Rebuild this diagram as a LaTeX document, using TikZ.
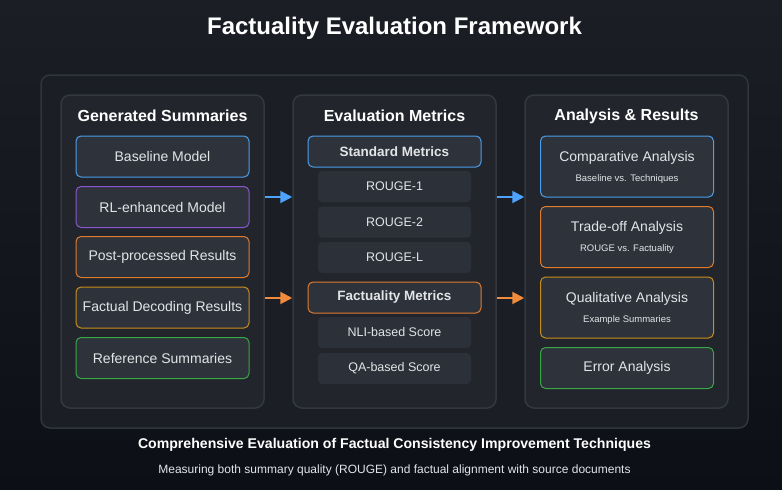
\documentclass[tikz,border=0pt]{standalone}
\usepackage{fontspec}
\setmainfont{Liberation Sans}
\usetikzlibrary{arrows.meta,positioning}
\definecolor{bgA}{HTML}{1B1E25}
\definecolor{bgB}{HTML}{0C0F15}
\definecolor{panelfill}{HTML}{1B1E25}
\definecolor{panelline}{HTML}{30343C}
\definecolor{colfill}{HTML}{22252C}
\definecolor{colline}{HTML}{33373F}
\definecolor{boxfill}{HTML}{2E333B}
\definecolor{subfill}{HTML}{2C3038}
\definecolor{txt}{HTML}{E2E4E8}
\definecolor{cblue}{HTML}{4A9EEB}
\definecolor{cpurple}{HTML}{8A55D0}
\definecolor{corange}{HTML}{E07B2E}
\definecolor{cgold}{HTML}{C98D1C}
\definecolor{cgreen}{HTML}{38A846}
\definecolor{ablue}{HTML}{4DA3FF}
\definecolor{aorange}{HTML}{F08A3C}
\tikzset{
  panel/.style={draw=panelline, line width=1.5pt, fill=panelfill, rounded corners=9pt},
  column/.style={draw=colline, line width=1.5pt, fill=colfill, rounded corners=9pt},
  coltitle/.style={text=white, font=\fontsize{16}{19}\selectfont\bfseries},
  itembox/.style={draw=#1, line width=1pt, fill=boxfill, rounded corners=5pt,
    minimum width=173pt, minimum height=41pt, inner sep=0pt, text=txt,
    font=\fontsize{14}{17}\selectfont},
  tallbox/.style={itembox=#1, minimum height=61pt},
  headbox/.style={draw=#1, line width=1pt, fill=boxfill, rounded corners=5pt,
    minimum width=173pt, minimum height=31pt, inner sep=0pt, text=txt,
    font=\fontsize{13.5}{16}\selectfont\bfseries},
  metricbox/.style={fill=subfill, rounded corners=4pt, minimum width=153pt,
    minimum height=31pt, inner sep=0pt, text=txt, font=\fontsize{12.5}{15}\selectfont},
  boxhead/.style={text=txt, font=\fontsize{14}{17}\selectfont},
  boxsub/.style={text=txt, font=\fontsize{9.5}{11}\selectfont},
  flow/.style={line width=2pt, draw=#1, -{Triangle[length=12pt,width=12pt,fill=#1]}},
}
\begin{document}
\begin{tikzpicture}[x=1pt,y=-1pt]
% background
\shade[left color=bgA, right color=bgB, shading angle=0] (0,0) rectangle (782,490);
\shade[top color=bgA, bottom color=bgB, opacity=0.5] (0,0) rectangle (782,490);
\useasboundingbox (0,0) rectangle (782,490);

% title
\node[text=white, font=\fontsize{24}{28}\selectfont\bfseries] (title) at (394.5,28) {Factuality Evaluation Framework};

% outer panel
\node[panel, minimum width=707pt, minimum height=353pt, inner sep=0pt] (panel) at (394.5,251.5) {};

% columns
\node[column, minimum width=203pt, minimum height=313pt, inner sep=0pt] (col1) at (162.5,251.5) {};
\node[column, minimum width=203pt, minimum height=313pt, inner sep=0pt] (col2) at (394.5,251.5) {};
\node[column, minimum width=203pt, minimum height=313pt, inner sep=0pt] (col3) at (626.5,251.5) {};

\node[coltitle] (t1) at (162.5,116) {Generated Summaries};
\node[coltitle] (t2) at (394.5,116) {Evaluation Metrics};
\node[coltitle] (t3) at (626.5,116) {Analysis \& Results};

% column 1: sources of summaries
\node[itembox=cblue]   (baseline) at (162.5,156.5) {Baseline Model};
\node[itembox=cpurple] (rl)       at (162.5,207)   {RL-enhanced Model};
\node[itembox=corange] (post)     at (162.5,257)   {Post-processed Results};
\node[itembox=cgold]   (decode)   at (162.5,307.5) {Factual Decoding Results};
\node[itembox=cgreen]  (ref)      at (162.5,358)   {Reference Summaries};

% column 2: metrics
\node[headbox=cblue]   (std)   at (394.5,151.5) {Standard Metrics};
\node[metricbox]       (r1)    at (394.5,186.5) {ROUGE-1};
\node[metricbox]       (r2)    at (394.5,222)   {ROUGE-2};
\node[metricbox]       (rlm)   at (394.5,257.5) {ROUGE-L};
\node[headbox=corange] (fact)  at (394.5,297.5) {Factuality Metrics};
\node[metricbox]       (nli)   at (394.5,332.5) {NLI-based Score};
\node[metricbox]       (qa)    at (394.5,368.5) {QA-based Score};

% column 3: analyses (heading above, note below)
\node[tallbox=cblue]   (comp)  at (627,166.5) {};
\node[boxhead] (comph) at ([yshift=9pt]comp.center) {Comparative Analysis};
\node[boxsub]  (comps) at ([yshift=-12.5pt]comp.center) {Baseline vs. Techniques};
\node[tallbox=corange] (trade) at (627,237) {};
\node[boxhead] (tradeh) at ([yshift=9pt]trade.center) {Trade-off Analysis};
\node[boxsub]  (trades) at ([yshift=-12.5pt]trade.center) {ROUGE vs. Factuality};
\node[tallbox=cgold]   (qual)  at (627,307.5) {};
\node[boxhead] (qualh) at ([yshift=9pt]qual.center) {Qualitative Analysis};
\node[boxsub]  (quals) at ([yshift=-12.5pt]qual.center) {Example Summaries};
\node[itembox=cgreen]  (err)   at (627,368) {Error Analysis};

% flow arrows between columns
\coordinate (ya) at (0,197);
\coordinate (yb) at (0,298);
\draw[flow=ablue]   (col1.east |- ya) -- (col2.west |- ya);
\draw[flow=ablue]   (col2.east |- ya) -- (col3.west |- ya);
\draw[flow=aorange] (col1.east |- yb) -- (col2.west |- yb);
\draw[flow=aorange] (col2.east |- yb) -- (col3.west |- yb);

% footer
\node[text=white, font=\fontsize{14.1}{17}\selectfont\bfseries] (foot) at (394.5,444.5)
  {Comprehensive Evaluation of Factual Consistency Improvement Techniques};
\node[text=txt, font=\fontsize{12}{14}\selectfont] (footsub) at (394.5,470)
  {Measuring both summary quality (ROUGE) and factual alignment with source documents};
\end{tikzpicture}
\end{document}
